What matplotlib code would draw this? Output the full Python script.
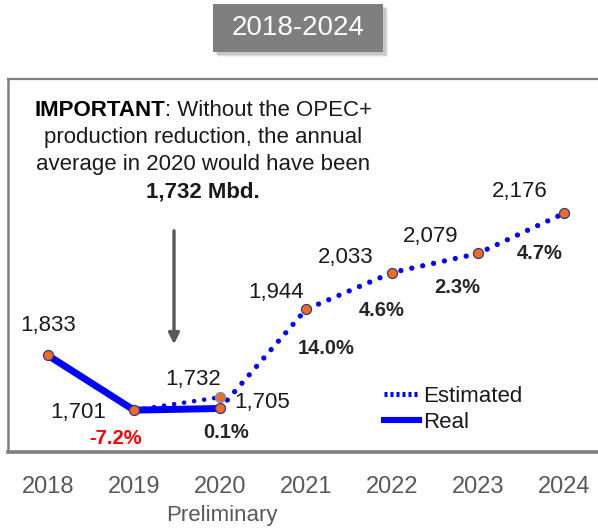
import matplotlib.pyplot as plt
from matplotlib.patches import Rectangle, FancyArrowPatch
from matplotlib.offsetbox import TextArea, HPacker, AnnotationBbox

plt.rcParams['font.family'] = ['Liberation Sans', 'DejaVu Sans']

# production, thousand barrels per day
years = [2018, 2019, 2020, 2021, 2022, 2023, 2024]
real_years = [2018, 2019, 2020]
real_vals = [1833, 1701, 1705]
est_years = [2020, 2021, 2022, 2023, 2024]
est_vals = [1705, 1944, 2033, 2079, 2176]
# scenario without the OPEC+ cut
alt_years = [2019, 2020]
alt_vals = [1701, 1732]

val_labels = ['1,833', '1,701', '1,705', '1,944', '2,033', '2,079', '2,176']
val_points = [(2018, 1833), (2019, 1701), (2020, 1705), (2021, 1944),
              (2022, 2033), (2023, 2079), (2024, 2176)]
growth = ['-7.2%', '0.1%', '14.0%', '4.6%', '2.3%', '4.7%']
growth_points = val_points[1:]

blue = '#0000FF'
orange = '#F26C1E'
edge = '#2B3990'
grey = '#7F7F7F'
txt = '#1A1A1A'

fig = plt.figure(figsize=(5.98, 5.29), dpi=100)
ax = fig.add_axes([8/598, 77/529, 590/598, 373/529])
ax.set_xlim(2017.535, 2024.395)
ax.set_ylim(1600, 2500)

ax.plot(real_years, real_vals, color=blue, lw=5.0, solid_capstyle='round', zorder=3)
ax.plot(est_years, est_vals, color=blue, lw=3.8, linestyle=(0, (0.01, 2.1)),
        dash_capstyle='round', zorder=3)
ax.plot(alt_years, alt_vals, color=blue, lw=3.3, linestyle=(0, (0.01, 2.2)),
        dash_capstyle='round', zorder=3)

allx = real_years + est_years[1:]
ally = real_vals + est_vals[1:]
ax.plot(allx, ally, 'o', ms=7.2, mfc=orange, mec=edge, mew=0.9, zorder=4)
ax.plot([alt_years[1]], [alt_vals[1]], 'o', ms=7.2, mfc=orange, mec='#6F8FC8',
        mew=0.9, zorder=4)

# value labels (offsets in pixels)
val_off = [(0, 30), (-56, -2), (42, 6), (-30, 17), (-46, 15), (-47, 17), (-44, 22)]
for lab, (x, y), (dx, dy) in zip(val_labels, val_points, val_off):
    ax.annotate(lab, (x, y), xytext=(dx*0.72, dy*0.72), textcoords='offset points',
                ha='center', va='center', fontsize=16, color=txt)
ax.annotate('1,732', (alt_years[1], alt_vals[1]), xytext=(-27*0.72, 18*0.72),
            textcoords='offset points', ha='center', va='center', fontsize=16, color=txt)

g_off = [(-18, -28), (6, -24), (20, -39), (-10, -38), (-21, -34), (-24, -40)]
for lab, (x, y), (dx, dy) in zip(growth, growth_points, g_off):
    ax.annotate(lab, (x, y), xytext=(dx*0.72, dy*0.72), textcoords='offset points',
                ha='center', va='center', fontsize=14.5, fontweight='bold',
                color='#FF0000' if lab.startswith('-') else '#262626')

ax.set_xticks(years)
ax.set_xticklabels([str(y) for y in years])
ax.set_yticks([])
ax.tick_params(axis='x', length=0, pad=17, labelsize=17, labelcolor='#595959')
ax.spines['right'].set_visible(False)
ax.spines['top'].set_color(grey)
ax.spines['top'].set_linewidth(1.6)
ax.spines['left'].set_color(grey)
ax.spines['left'].set_linewidth(1.8)
ax.spines['bottom'].set_color(grey)
ax.spines['bottom'].set_linewidth(2.6)

h_est, = ax.plot([], [], color=blue, lw=3.6, linestyle=(0, (0.6, 0.6)))
h_real, = ax.plot([], [], color=blue, lw=4.4)
ax.legend([h_est, h_real], ['Estimated', 'Real'], frameon=False, fontsize=16,
          loc='upper left', bbox_to_anchor=(373/598, 1 - 375/529),
          bbox_transform=fig.transFigure, borderpad=0, handlelength=1.55,
          handletextpad=0.2, labelspacing=0.2, labelcolor=txt)

fig.text(222/598, 1 - 516/529, 'Preliminary', ha='center', va='center',
         fontsize=16, color='#595959')

# note about the OPEC+ cut
line1 = HPacker(children=[TextArea('IMPORTANT', textprops=dict(fontsize=16, fontweight='bold', color='black')),
                          TextArea(': Without the OPEC+', textprops=dict(fontsize=16, color=txt))],
                align='baseline', pad=0, sep=0)
ab = AnnotationBbox(line1, (203/598, 1 - 110/529), xycoords='figure fraction',
                    frameon=False, box_alignment=(0.5, 0.5), pad=0)
fig.add_artist(ab)
fig.text(203/598, 1 - 137/529, 'production reduction, the annual', ha='center',
         va='center', fontsize=16, color=txt)
fig.text(203/598, 1 - 164/529, 'average in 2020 would have been', ha='center',
         va='center', fontsize=16, color=txt)
fig.text(203/598, 1 - 192/529, '1,732 Mbd.', ha='center', va='center',
         fontsize=16, fontweight='bold', color=txt)
fig.add_artist(FancyArrowPatch(
    (174/598, 1 - 228/529), (174/598, 1 - 347/529), transform=fig.transFigure,
    arrowstyle='-|>', mutation_scale=16, lw=2.4, color='#595959'))

# title box with a soft shadow
for off, a in [(5, 0.15), (4, 0.25), (3, 0.35)]:
    fig.add_artist(Rectangle(((213 + off)/598, 1 - (52 + off)/529), 170/598, 48/529,
                             transform=fig.transFigure, color='#A0A0A0', alpha=a, lw=0))
fig.add_artist(Rectangle((213/598, 1 - 52/529), 170/598, 48/529,
                         transform=fig.transFigure, color='#7F7F7F', lw=0))
fig.text(298/598, 1 - 28/529, '2018-2024', ha='center', va='center',
         fontsize=20, color='white')

fig.savefig('out.png', dpi=100)
